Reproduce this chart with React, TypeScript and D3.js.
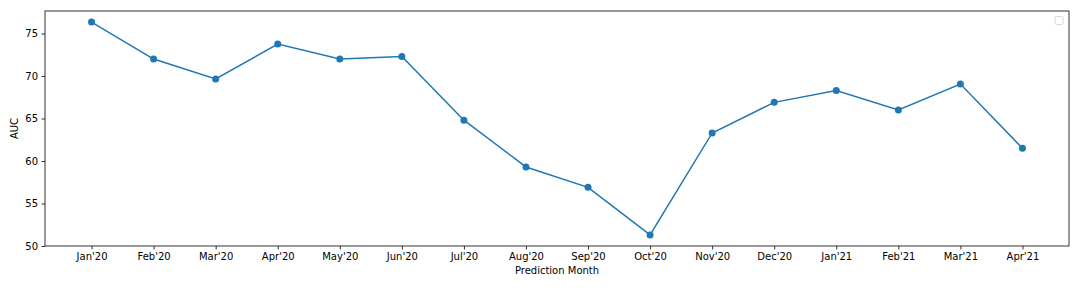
import React, { useEffect, useRef } from "react";
import * as d3 from "d3";

const months = [
  "Jan'20", "Feb'20", "Mar'20", "Apr'20", "May'20", "Jun'20", "Jul'20", "Aug'20",
  "Sep'20", "Oct'20", "Nov'20", "Dec'20", "Jan'21", "Feb'21", "Mar'21", "Apr'21",
];
const auc = [
  76.35, 72.0, 69.65, 73.76, 72.0, 72.3, 64.8, 59.3,
  56.9, 51.3, 63.3, 66.9, 68.3, 66.0, 69.05, 61.5,
];
const yTicks = [50, 55, 60, 65, 70, 75];

const W = 1080;
const H = 288;
const m = { left: 45, right: 11, top: 11, bottom: 42 };
const blue = "#1f77b4";

export default function App() {
  const ref = useRef<SVGSVGElement>(null);

  useEffect(() => {
    const svg = d3.select(ref.current);
    svg.selectAll("*").remove();
    const font = "DejaVu Sans, sans-serif";

    const x = d3
      .scaleLinear()
      .domain([-0.75, months.length - 0.25])
      .range([m.left, W - m.right]);
    const y = d3
      .scaleLinear()
      .domain([50, 77.65])
      .range([H - m.bottom, m.top]);

    svg.append("rect").attr("width", W).attr("height", H).attr("fill", "white");

    const xAxis = svg
      .append("g")
      .attr("transform", `translate(0, ${H - m.bottom})`)
      .call(
        d3
          .axisBottom(x)
          .tickValues(d3.range(months.length))
          .tickFormat((i) => months[i as number])
          .tickSize(3.5)
          .tickPadding(3.5)
      );
    const yAxis = svg
      .append("g")
      .attr("transform", `translate(${m.left}, 0)`)
      .call(d3.axisLeft(y).tickValues(yTicks).tickSize(3.5).tickPadding(3.5));

    [xAxis, yAxis].forEach((g) => {
      g.select(".domain").remove();
      g.selectAll("line").attr("stroke", "#000").attr("stroke-width", 0.8);
      g.selectAll("text")
        .attr("font-family", font)
        .attr("font-size", 10)
        .attr("fill", "#000");
    });

    // frame
    svg
      .append("rect")
      .attr("x", m.left)
      .attr("y", m.top)
      .attr("width", W - m.left - m.right)
      .attr("height", H - m.top - m.bottom)
      .attr("fill", "none")
      .attr("stroke", "#000")
      .attr("stroke-width", 0.8);

    const line = d3
      .line<number>()
      .x((d, i) => x(i))
      .y((d) => y(d));

    svg
      .append("path")
      .datum(auc)
      .attr("d", line)
      .attr("fill", "none")
      .attr("stroke", blue)
      .attr("stroke-width", 1.5);

    svg
      .selectAll("circle.pt")
      .data(auc)
      .join("circle")
      .attr("class", "pt")
      .attr("cx", (d, i) => x(i))
      .attr("cy", (d) => y(d))
      .attr("r", 3.5)
      .attr("fill", blue);

    // empty legend box
    svg
      .append("rect")
      .attr("x", W - m.right - 14)
      .attr("y", m.top + 5.5)
      .attr("width", 8)
      .attr("height", 8)
      .attr("rx", 1.5)
      .attr("fill", "white")
      .attr("stroke", "#cccccc")
      .attr("stroke-width", 0.8);

    svg
      .append("text")
      .text("Prediction Month")
      .attr("x", (m.left + W - m.right) / 2)
      .attr("y", 274)
      .attr("text-anchor", "middle")
      .attr("font-family", font)
      .attr("font-size", 10);

    svg
      .append("text")
      .text("AUC")
      .attr("transform", `translate(18, ${(m.top + H - m.bottom) / 2}) rotate(-90)`)
      .attr("text-anchor", "middle")
      .attr("font-family", font)
      .attr("font-size", 10);
  }, []);

  return (
    <svg
      ref={ref}
      width={W}
      height={H}
      style={{ position: "absolute", left: 0, top: 0 }}
    />
  );
}
